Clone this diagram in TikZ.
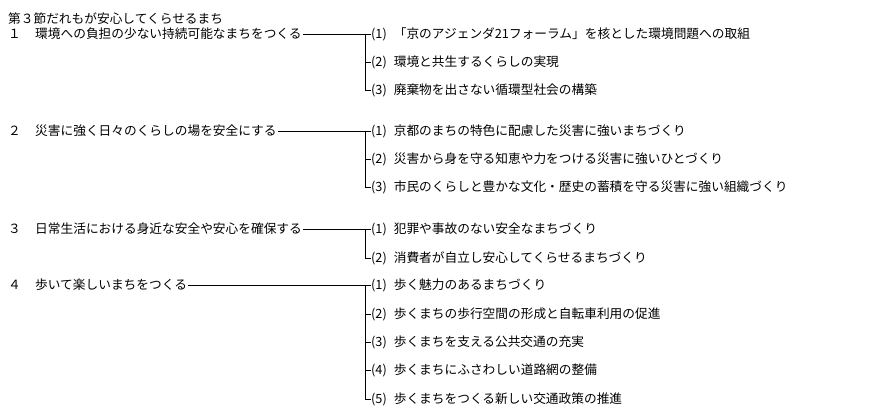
\documentclass[tikz,border=0pt]{standalone}
\usepackage{fontspec}
\setmainfont{Noto Sans CJK JP}
\usetikzlibrary{positioning}
\tikzset{
  txt/.style={inner sep=0pt,anchor=west,font=\fontsize{12.7}{13}\selectfont},
  branch/.style={line width=0.6pt}
}
\newcommand{\itm}[1]{(#1)\hspace{7pt}}
\begin{document}
\begin{tikzpicture}[x=1pt,y=-1pt]
\useasboundingbox (0,0) rectangle (889,419);
\edef\tx{365}

\node[txt] (title) at (8,19) {第３節だれもが安心してくらせるまち};

% sections
\node[txt] (n1) at (8,34) {１};
\node[txt] (s1) at (35,34) {環境への負担の少ない持続可能なまちをつくる};
\node[txt] (n2) at (8,131) {２};
\node[txt] (s2) at (35,131) {災害に強く日々のくらしの場を安全にする};
\node[txt] (n3) at (8,229) {３};
\node[txt] (s3) at (35,229) {日常生活における身近な安全や安心を確保する};
\node[txt] (n4) at (8,285) {４};
\node[txt] (s4) at (35,285) {歩いて楽しいまちをつくる};

% items
\node[txt] (a1) at (371,34) {\itm{1}「京のアジェンダ21フォーラム」を核とした環境問題への取組};
\node[txt] (a2) at (371,62) {\itm{2}環境と共生するくらしの実現};
\node[txt] (a3) at (371,90) {\itm{3}廃棄物を出さない循環型社会の構築};
\node[txt] (b1) at (371,131) {\itm{1}京都のまちの特色に配慮した災害に強いまちづくり};
\node[txt] (b2) at (371,159) {\itm{2}災害から身を守る知恵や力をつける災害に強いひとづくり};
\node[txt] (b3) at (371,187) {\itm{3}市民のくらしと豊かな文化・歴史の蓄積を守る災害に強い組織づくり};
\node[txt] (c1) at (371,229) {\itm{1}犯罪や事故のない安全なまちづくり};
\node[txt] (c2) at (371,258) {\itm{2}消費者が自立し安心してくらせるまちづくり};
\node[txt] (d1) at (371,285) {\itm{1}歩く魅力のあるまちづくり};
\node[txt] (d2) at (371,314) {\itm{2}歩くまちの歩行空間の形成と自転車利用の促進};
\node[txt] (d3) at (371,342) {\itm{3}歩くまちを支える公共交通の充実};
\node[txt] (d4) at (371,370) {\itm{4}歩くまちにふさわしい道路網の整備};
\node[txt] (d5) at (371,399) {\itm{5}歩くまちをつくる新しい交通政策の推進};

% tree lines
\foreach \s/\f/\l/\others in {s1/a1/a3/{a1,a2,a3},s2/b1/b3/{b1,b2,b3},s3/c1/c2/{c1,c2},s4/d1/d5/{d1,d2,d3,d4,d5}}{
  \draw[branch] ([xshift=1pt]\s.east) -- (\f.west -| \tx,0);
  \draw[branch] (\f.west -| \tx,0) -- (\l.west -| \tx,0);
  \foreach \i in \others
    \draw[branch] (\i.west -| \tx,0) -- (\i.west);
}
\end{tikzpicture}
\end{document}
